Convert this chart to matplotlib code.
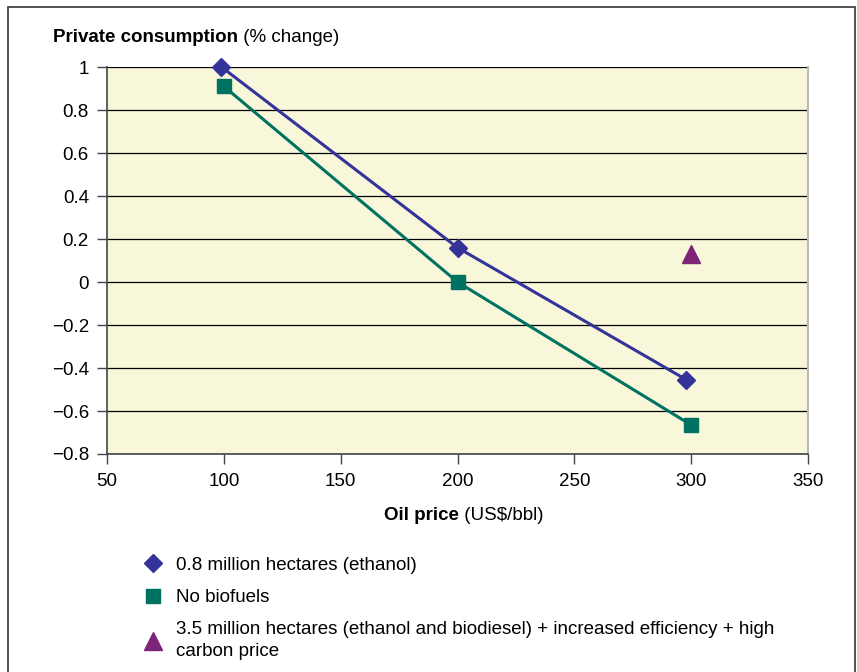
import matplotlib.pyplot as plt
from matplotlib.lines import Line2D
from matplotlib.patches import Rectangle

plt.rcParams['font.family'] = ['Liberation Sans', 'DejaVu Sans']
plt.rcParams['font.size'] = 13.5
plt.rcParams['axes.unicode_minus'] = True

# Data
ethanol_x = [99, 200, 298]
ethanol_y = [1.0, 0.16, -0.455]
nobio_x = [100, 200, 300]
nobio_y = [0.91, 0.0, -0.665]
combo_x = [300]
combo_y = [0.13]

labels = ["0.8 million hectares (ethanol)",
          "No biofuels",
          "3.5 million hectares (ethanol and biodiesel) + increased efficiency + high\ncarbon price"]

blue = "#333399"
green = "#007262"
purple = "#7d2479"
fs = 13.5

fig = plt.figure(figsize=(8.57, 6.72), dpi=100)
ax = fig.add_axes([107 / 857, 1 - 454 / 672, 701 / 857, 387 / 672])
ax.set_facecolor("#f9f7da")

ax.plot(ethanol_x, ethanol_y, color=blue, lw=2.2, marker="D", ms=9, zorder=4,
        clip_on=False)
ax.plot(nobio_x, nobio_y, color=green, lw=2.2, marker="s", ms=10, zorder=3,
        clip_on=False)
ax.plot(combo_x, combo_y, color=purple, lw=0, marker="^", ms=13, zorder=5)

ax.set_xlim(50, 350)
ax.set_ylim(-0.8, 1)
ax.set_xticks([50, 100, 150, 200, 250, 300, 350])
ax.set_yticks([-0.8, -0.6, -0.4, -0.2, 0, 0.2, 0.4, 0.6, 0.8, 1])
ax.set_yticklabels(["\u22120.8", "\u22120.6", "\u22120.4", "\u22120.2", "0",
                    "0.2", "0.4", "0.6", "0.8", "1"])
ax.grid(axis="y", color="black", lw=0.9)
ax.set_axisbelow(True)
ax.tick_params(direction="out", length=7, width=1, color="#444444",
               labelsize=fs)
ax.tick_params(axis="y", pad=6)
ax.tick_params(axis="x", pad=7)
ax.spines["top"].set_visible(False)
ax.spines["right"].set_color("#bbbbbb")
ax.spines["right"].set_linewidth(1.5)
ax.spines["left"].set_color("#444444")
ax.spines["bottom"].set_color("#444444")
ax.spines["left"].set_linewidth(1.2)
ax.spines["bottom"].set_linewidth(1.2)

# Titles with bold part
t1 = fig.text(53 / 857, 1 - 37 / 672, "Private consumption", fontweight="bold",
              fontsize=fs, va="center", ha="left")
ax.annotate(" (% change)", xy=(1, 0.5), xycoords=t1, va="center", ha="left",
            fontsize=fs)

t2 = fig.text(384 / 857, 1 - 516 / 672, "Oil price", fontweight="bold",
              fontsize=fs, va="center", ha="left")
ax.annotate(" (US$/bbl)", xy=(1, 0.5), xycoords=t2, va="center", ha="left",
            fontsize=fs)

handles = [Line2D([], [], color=blue, marker="D", lw=0, ms=9),
           Line2D([], [], color=green, marker="s", lw=0, ms=10),
           Line2D([], [], color=purple, marker="^", lw=0, ms=13)]
leg = fig.legend(handles, labels, loc="upper left",
                 bbox_to_anchor=(125 / 857, 1 - 540 / 672), frameon=False,
                 fontsize=fs, handlelength=1.2, handletextpad=0.6,
                 labelspacing=0.8)
for t in leg.get_texts():
    t.set_linespacing(1.4)

fig.patches.append(Rectangle((8 / 857, -0.05), 847 / 857, 1 - 7 / 672 + 0.05,
                             transform=fig.transFigure, fill=False,
                             edgecolor="#333333", lw=1.2))

fig.savefig("out.png", dpi=100)
